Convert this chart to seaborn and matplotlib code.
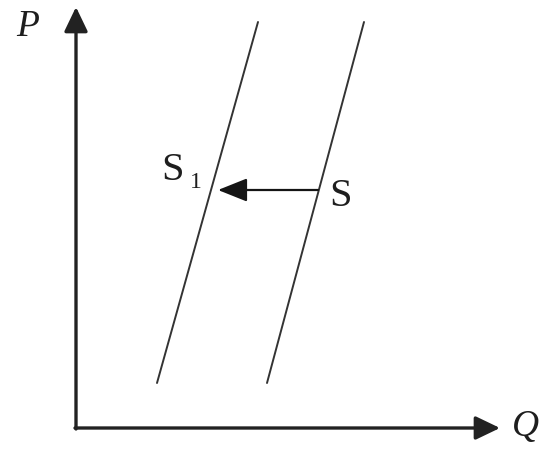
import matplotlib
matplotlib.use("Agg")
import matplotlib.pyplot as plt
import seaborn as sns
import pandas as pd

sns.set_theme(style="white")
plt.rcParams['font.family'] = ['Liberation Serif', 'DejaVu Serif']

# Data (Q, P in chart units, origin at the axes corner)
s1_q = [81, 182]
s1_p = [45, 406]
s_q = [191, 288]
s_p = [45, 406]
shift_p = 238
shift_from_q = 242
shift_to_q = 142

df = pd.DataFrame({
    "Q": s1_q + s_q,
    "P": s1_p + s_p,
    "curve": ["S1", "S1", "S", "S"],
})

fig = plt.figure(figsize=(5.44, 4.53), dpi=100)
ax = fig.add_axes([0, 0, 1, 1])
ax.set_xlim(-76, 468)
ax.set_ylim(-25, 428)
ax.axis("off")

sns.lineplot(data=df, x="Q", y="P", units="curve", estimator=None,
             color="#333333", lw=1.4, ax=ax, legend=False)

# axes with arrows
ax.annotate("", xy=(0, 421), xytext=(0, -1),
            arrowprops=dict(arrowstyle="-|>,head_length=1.25,head_width=0.6",
                            color="#222222", lw=2.4, shrinkA=0, shrinkB=0))
ax.annotate("", xy=(424, 0), xytext=(-1, 0),
            arrowprops=dict(arrowstyle="-|>,head_length=1.25,head_width=0.6",
                            color="#222222", lw=2.4, shrinkA=0, shrinkB=0))

# shift arrow
ax.annotate("", xy=(shift_to_q, shift_p), xytext=(shift_from_q, shift_p),
            arrowprops=dict(arrowstyle="-|>,head_length=1.5,head_width=0.6",
                            color="#151515", lw=1.6, shrinkA=0, shrinkB=0))

ax.text(-48, 401, "P", fontsize=27, style="italic", ha="center", va="center", color="#1e1e1e")
ax.text(450, 1, "Q", fontsize=27, style="italic", ha="center", va="center", color="#1e1e1e")
ax.text(96, 258, "S", fontsize=29, ha="center", va="center", color="#1e1e1e")
ax.text(120, 246, "1", fontsize=17, ha="center", va="center", color="#1e1e1e")
ax.text(265, 231, "S", fontsize=29, ha="center", va="center", color="#1e1e1e")

fig.savefig("out.png", dpi=100, facecolor="white")
